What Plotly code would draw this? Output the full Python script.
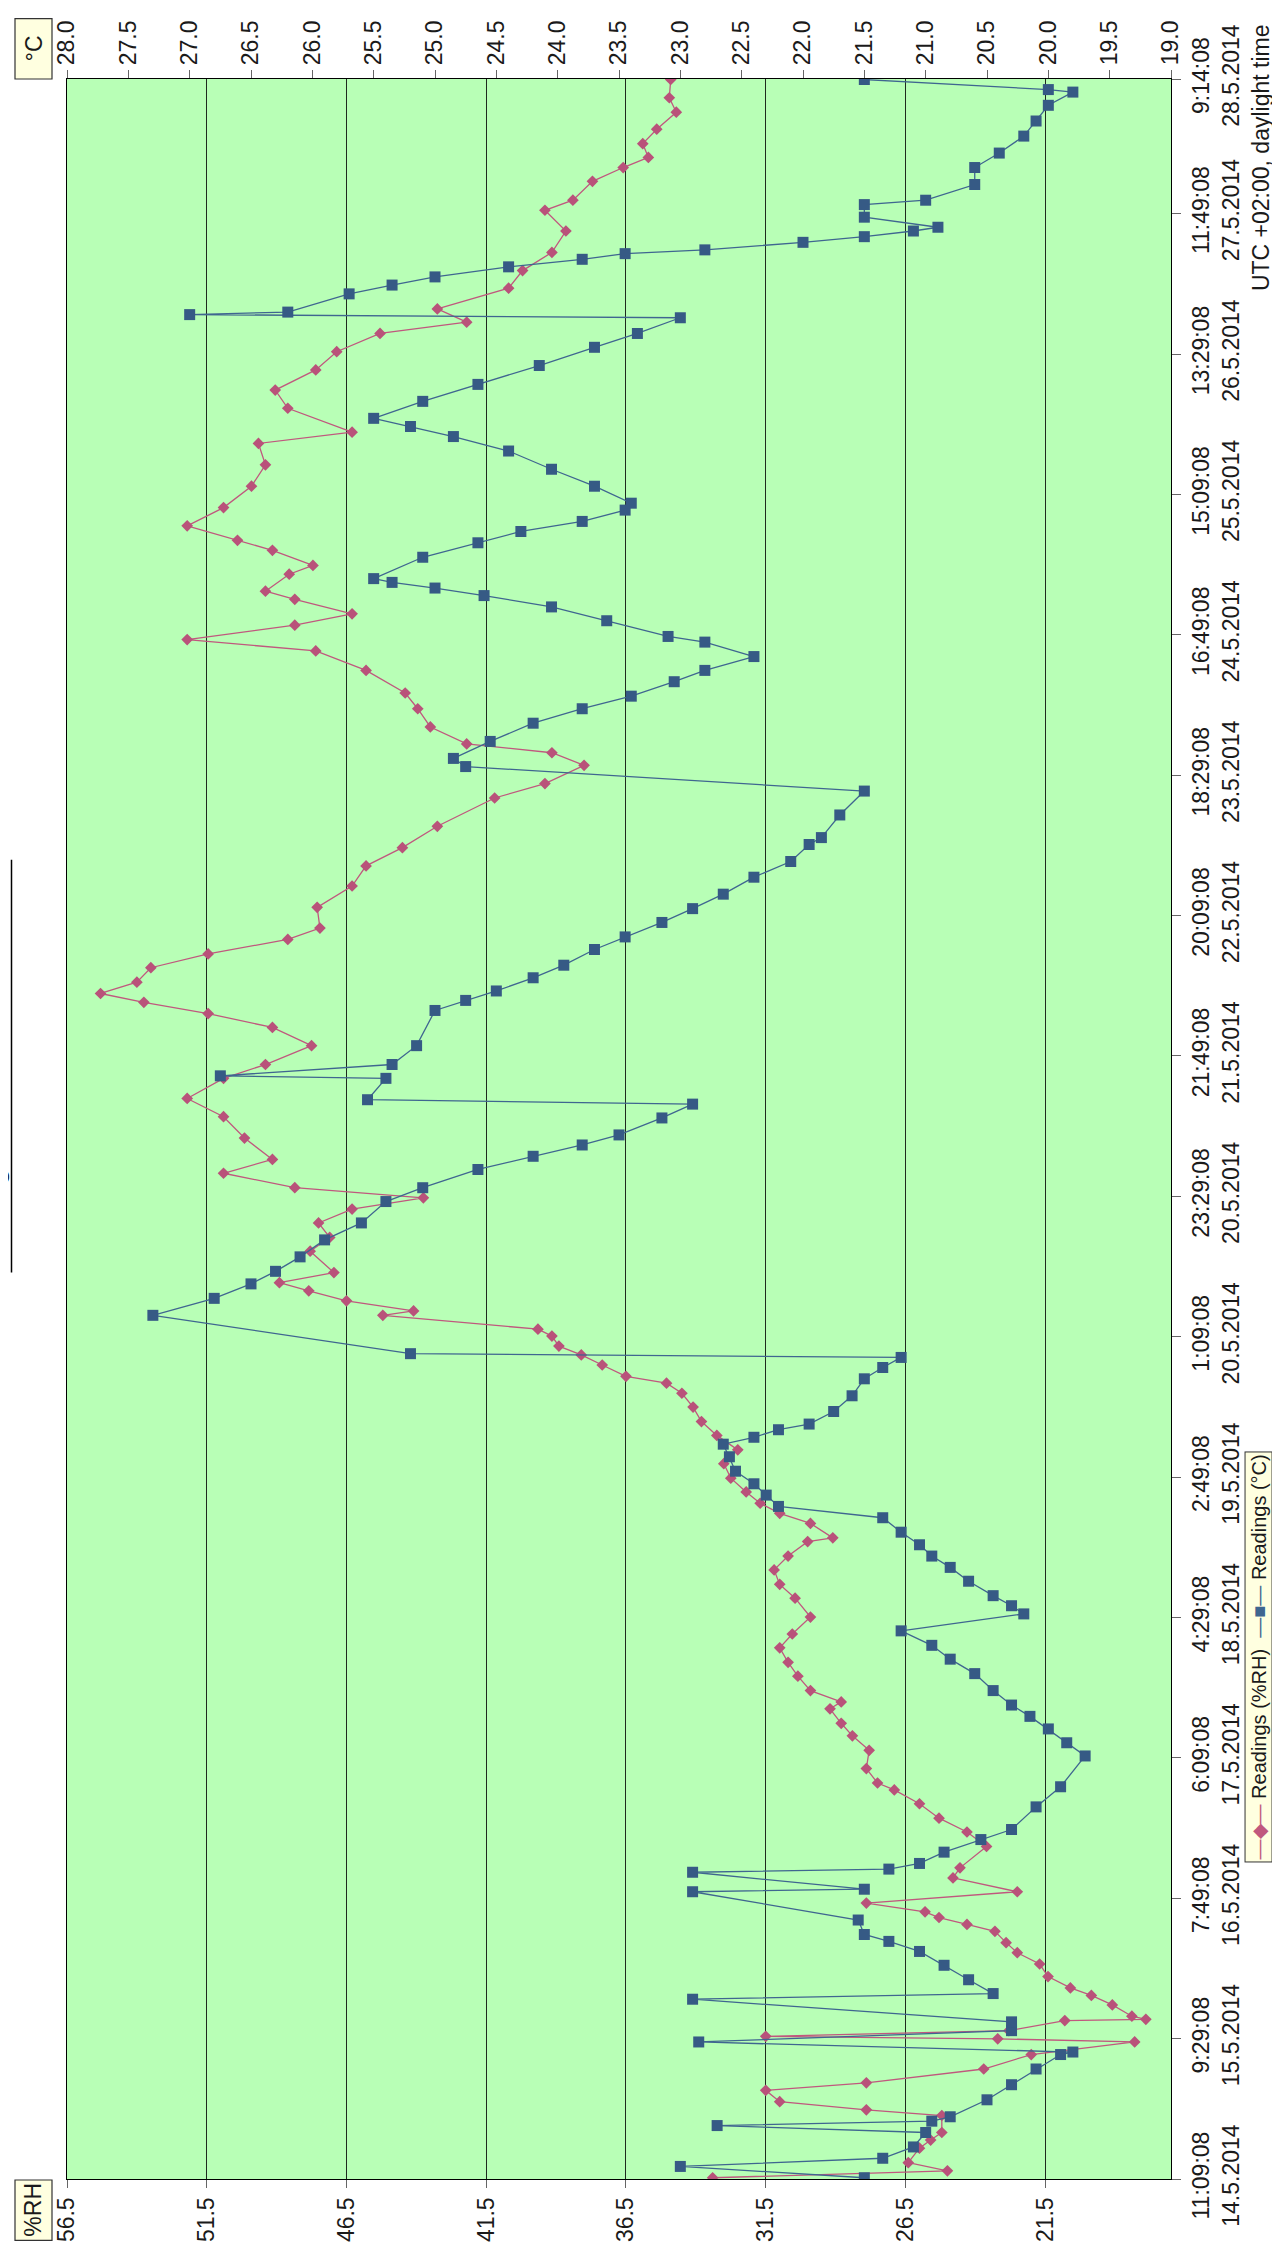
import plotly.graph_objects as go
from datetime import datetime, timedelta

# ---------------- data ----------------
START = "14.5.2014 11:09:08"
tick_labels = ["11:09:08 14.5.2014", "9:29:08 15.5.2014", "7:49:08 16.5.2014", "6:09:08 17.5.2014",
               "4:29:08 18.5.2014", "2:49:08 19.5.2014", "1:09:08 20.5.2014", "23:29:08 20.5.2014",
               "21:49:08 21.5.2014", "20:09:08 22.5.2014", "18:29:08 23.5.2014", "16:49:08 24.5.2014",
               "15:09:08 25.5.2014", "13:29:08 26.5.2014", "11:49:08 27.5.2014", "9:14:08 28.5.2014"]
rh_ticks = [56.5, 51.5, 46.5, 41.5, 36.5, 31.5, 26.5, 21.5]

# hours since START, temperature (°C)
temp_h = [0.2, 2.0, 3.3, 5.1, 7.4, 8.5, 9.2, 9.9, 12.6, 15.0, 17.5, 19.8, 20.2, 21.8, 23.6, 25.0,
          28.6, 29.5, 31.7, 34.0, 36.2, 37.8, 38.9, 41.2, 45.7, 46.1, 48.8, 49.3, 50.2, 52.0, 54.0,
          55.6, 59.2, 62.4, 67.3, 69.4, 71.6, 73.6, 75.4, 77.7, 80.4, 82.7, 84.9, 87.2, 89.9, 91.2,
          92.8, 95.1, 97.3, 99.1, 100.9, 102.9, 105.2, 107.0, 108.8, 110.6, 112.6, 114.9, 116.9,
          118.0, 119.2, 120.1, 122.1, 124.6, 127.3, 129.1, 130.7, 131.3, 137.4, 140.1, 142.4, 144.4,
          146.7, 149.4, 152.1, 155.5, 157.7, 160.6, 162.7, 164.5, 166.1, 168.8, 171.0, 171.7, 175.1,
          175.5, 177.3, 180.3, 185.9, 187.5, 189.0, 191.1, 193.1, 195.6, 197.6, 199.9, 202.1, 204.4,
          207.1, 209.6, 212.3, 213.4, 217.0, 220.8, 224.7, 226.0, 228.7, 231.6, 233.9, 235.9, 238.2,
          240.0, 242.2, 244.5, 245.4, 247.9, 250.1, 251.9, 253.1, 254.0, 254.6, 258.0, 260.3, 262.1,
          263.7, 265.5, 266.6, 269.3, 272.0, 274.9, 277.2, 278.8, 280.1, 282.8, 285.5, 288.5, 291.4,
          293.6, 296.1, 296.6, 297.0, 299.9, 301.3, 302.6, 304.2, 305.4, 306.3, 306.9, 308.1, 309.0,
          309.9, 310.5, 312.1, 314.1, 314.8, 317.3, 320.0, 322.3, 325.0, 327.4, 329.9, 332.0, 332.4,
          334.0]
temp_c = [21.5, 23.0, 21.35, 21.1, 21.0, 22.7, 20.95, 20.8, 20.5, 20.3, 20.1, 19.9, 19.8, 22.85,
          20.3, 20.3, 22.9, 20.45, 20.65, 20.85, 21.05, 21.3, 21.5, 21.55, 22.9, 21.5, 22.9, 21.3,
          21.05, 20.85, 20.55, 20.3, 20.1, 19.9, 19.7, 19.85, 20.0, 20.15, 20.3, 20.45, 20.6, 20.8,
          20.95, 21.2, 20.2, 20.3, 20.45, 20.65, 20.8, 20.95, 21.05, 21.2, 21.35, 22.2, 22.3, 22.4,
          22.55, 22.6, 22.65, 22.4, 22.2, 21.95, 21.75, 21.6, 21.5, 21.35, 21.2, 25.2, 27.3, 26.8,
          26.5, 26.3, 26.1, 25.9, 25.6, 25.4, 25.1, 24.65, 24.2, 23.8, 23.5, 23.15, 22.9, 25.55,
          25.4, 26.75, 25.35, 25.15, 25.0, 24.75, 24.5, 24.2, 23.95, 23.7, 23.45, 23.15, 22.9, 22.65,
          22.4, 22.1, 21.95, 21.85, 21.7, 21.5, 24.75, 24.85, 24.55, 24.2, 23.8, 23.4, 23.05, 22.8,
          22.4, 22.8, 23.1, 23.6, 24.05, 24.6, 25.0, 25.35, 25.5, 25.1, 24.65, 24.3, 23.8, 23.45,
          23.4, 23.7, 24.05, 24.4, 24.85, 25.2, 25.5, 25.1, 24.65, 24.15, 23.7, 23.35, 23.0, 27.0,
          26.2, 25.7, 25.35, 25.0, 24.4, 23.8, 23.45, 22.8, 22.0, 21.5, 21.1, 20.9, 21.5, 21.5, 21.0,
          20.6, 20.6, 20.4, 20.2, 20.1, 20.0, 19.8, 20.0, 21.5]

# hours since START, relative humidity (%RH)
rh_h = [0.2, 1.3, 2.6, 4.9, 6.2, 7.4, 10.1, 11.0, 12.3, 14.1, 15.3, 17.5, 19.8, 21.8, 22.3, 22.7,
        23.6, 25.2, 25.4, 25.9, 27.7, 29.2, 30.4, 32.2, 34.2, 36.0, 37.6, 39.4, 40.5, 41.6, 42.5,
        43.9, 45.7, 47.9, 49.5, 52.9, 55.2, 57.4, 59.7, 61.9, 63.0, 65.3, 68.2, 70.5, 72.5, 74.8,
        75.9, 77.7, 80.0, 82.2, 84.5, 86.7, 89.4, 92.4, 94.6, 96.9, 99.1, 101.4, 102.0, 104.3,
        105.9, 107.5, 109.3, 111.5, 113.8, 116.0, 118.3, 120.5, 122.8, 125.0, 126.6, 127.7, 129.5,
        131.1, 132.5, 134.1, 135.2, 137.4, 138.1, 139.7, 141.3, 142.6, 144.2, 147.6, 149.8, 152.1,
        154.3, 156.1, 157.7, 160.0, 162.2, 165.6, 169.0, 171.9, 175.1, 177.3, 180.3, 183.2, 185.4,
        187.2, 188.6, 190.4, 192.7, 194.9, 197.2, 199.0, 202.3, 205.7, 208.9, 211.8, 215.2, 219.7,
        222.0, 224.9, 226.9, 228.3, 231.0, 233.9, 236.4, 240.0, 243.1, 244.9, 247.2, 249.0, 251.3,
        252.6, 255.3, 256.7, 259.1, 260.7, 263.0, 265.9, 269.3, 272.7, 276.1, 277.9, 281.7, 284.6,
        287.8, 290.7, 293.6, 295.4, 297.5, 300.8, 303.6, 306.5, 309.9, 313.2, 314.8, 317.8, 320.0,
        321.6, 323.8, 326.1, 328.8, 331.1, 334.0]
rh_v = [33.4, 25.0, 26.4, 26.0, 25.6, 25.2, 25.2, 27.9, 31.0, 31.5, 27.9, 23.7, 22.0, 18.3, 23.2,
        31.5, 22.8, 20.8, 17.9, 18.4, 19.1, 19.85, 20.6, 21.4, 21.7, 22.5, 22.9, 23.3, 24.3, 25.3,
        25.8, 27.9, 22.5, 24.8, 24.55, 23.6, 24.3, 25.3, 26.0, 26.9, 27.5, 27.9, 27.8, 28.4, 28.8,
        29.2, 28.8, 29.9, 30.35, 30.7, 31.0, 30.55, 29.9, 30.45, 31.0, 31.2, 30.7, 30.0, 29.1, 29.9,
        31.0, 31.7, 32.2, 32.75, 33.0, 32.5, 33.25, 33.8, 34.1, 34.5, 35.05, 36.5, 37.35, 38.1,
        38.9, 39.15, 39.65, 45.2, 44.1, 46.5, 47.85, 48.9, 46.95, 47.8, 47.1, 47.5, 46.3, 43.75,
        48.35, 50.9, 49.15, 50.15, 50.9, 52.2, 50.9, 49.4, 47.75, 49.15, 51.45, 53.75, 55.3, 54.0,
        53.5, 51.45, 48.6, 47.45, 47.55, 46.3, 45.8, 44.5, 43.25, 41.2, 39.4, 38.0, 39.15, 42.2,
        43.5, 43.95, 44.4, 45.8, 47.6, 52.2, 48.35, 46.3, 48.35, 49.4, 48.55, 47.7, 49.15, 50.4,
        52.2, 50.9, 49.9, 49.4, 49.65, 46.3, 48.6, 49.05, 47.6, 46.85, 45.3, 42.2, 43.25, 40.7,
        40.2, 39.15, 38.65, 39.4, 38.4, 37.7, 36.6, 35.7, 35.9, 35.4, 34.7, 34.95, 34.9]

# ---------------- helpers ----------------
t0 = datetime.strptime(START, "%d.%m.%Y %H:%M:%S")
def to_dt(hours):
    return [t0 + timedelta(hours=h) for h in hours]

tick_dt = [datetime.strptime(s, "%H:%M:%S %d.%m.%Y") for s in tick_labels]
tick_txt = [s.replace(" ", "<br>") for s in tick_labels]

W, H = 1280, 2246
L, R, T, B = 59, 1163, 61, 2183   # plot area in pixels
def px(x):
    return (x - L) / (R - L)
def py(y):
    return (B - y) / (B - T)

RH_COL = "#c0587e"
RH_MK = "#b9527a"
T_COL = "#3f6690"
T_MK = "#365a85"
FONT = "Liberation Sans, Arial, sans-serif"
FS = 23

fig = go.Figure()
fig.add_trace(go.Scatter(x=rh_v, y=to_dt(rh_h), mode="lines+markers", xaxis="x", yaxis="y",
                         line=dict(color=RH_COL, width=1.3),
                         marker=dict(symbol="diamond", size=9, color=RH_MK),
                         name="Readings (%RH)", showlegend=False))
fig.add_trace(go.Scatter(x=temp_c, y=to_dt(temp_h), mode="lines+markers", xaxis="x2", yaxis="y",
                         line=dict(color=T_COL, width=1.3),
                         marker=dict(symbol="square", size=11, color=T_MK),
                         name="Readings (°C)", showlegend=False))

fig.update_layout(
    width=W, height=H,
    margin=dict(l=L, r=W - R, t=T, b=H - B, pad=0),
    paper_bgcolor="white", plot_bgcolor="#b8ffb6",
    font=dict(family=FONT, size=FS, color="#1a1a1a"),
    xaxis=dict(range=[56.5, 17.0], tickvals=rh_ticks, tickformat=".1f", tickangle=-90,
               showgrid=True, gridcolor="#1e2a1e", gridwidth=1.3, zeroline=False,
               showline=True, linecolor="black", linewidth=1.3,
               ticks="outside", ticklen=8, tickcolor="#666"),
    xaxis2=dict(range=[28.0, 19.0], dtick=0.5, tick0=19.0, tickformat=".1f", tickangle=-90,
                overlaying="x", side="top", showgrid=False, zeroline=False,
                showline=True, linecolor="black", linewidth=1.3,
                ticks="outside", ticklen=8, tickcolor="#666"),
    yaxis=dict(type="date", range=[tick_dt[0], tick_dt[-1]], tickvals=tick_dt, ticktext=tick_txt,
               side="right", tickangle=-90, showgrid=False, zeroline=False,
               showline=True, mirror=True, linecolor="black", linewidth=1.3,
               ticks="outside", ticklen=9, tickcolor="#666"),
    showlegend=False,
)

shapes = [
    dict(type="rect", xref="paper", yref="paper", x0=px(7), x1=px(44), y0=py(61), y1=py(0),
         fillcolor="#ffffe0", line=dict(color="#333", width=1.2)),
    dict(type="rect", xref="paper", yref="paper", x0=px(7), x1=px(44), y0=py(2245), y1=py(2184),
         fillcolor="#ffffe0", line=dict(color="#333", width=1.2)),
    dict(type="line", xref="paper", yref="paper", x0=px(3.5), x1=px(3.5), y0=py(1267), y1=py(850),
         line=dict(color="black", width=1.5)),
]
annotations = [
    dict(text="°C", xref="paper", yref="paper", x=px(25.5), y=py(30.5), showarrow=False,
         textangle=-90, xanchor="center", yanchor="middle", font=dict(size=FS)),
    dict(text="%RH", xref="paper", yref="paper", x=px(25.5), y=py(2214.5), showarrow=False,
         textangle=-90, xanchor="center", yanchor="middle", font=dict(size=FS)),
    dict(text="UTC +02:00, daylight time", xref="paper", yref="paper", x=px(1253), y=py(4),
         showarrow=False, textangle=-90, xanchor="center", yanchor="top", font=dict(size=FS)),
    dict(text="Readings 14.5.2014 - 28.5.2014", xref="paper", yref="paper", x=px(3), y=py(1058),
         showarrow=False, textangle=-90, xanchor="right", yanchor="middle", font=dict(size=30)),
    dict(text=f"<span style='color:{RH_COL}'>—◆—</span> Readings (%RH)  "
              f"<span style='color:{T_COL}'>—■—</span> Readings (°C)",
         xref="paper", yref="paper", x=px(1251), y=py(1656), showarrow=False, textangle=-90,
         xanchor="center", yanchor="middle", font=dict(size=20),
         bgcolor="#ffffe0", bordercolor="#333", borderwidth=1, borderpad=2),
]
fig.update_layout(shapes=shapes, annotations=annotations)
fig.write_html("out.html")
